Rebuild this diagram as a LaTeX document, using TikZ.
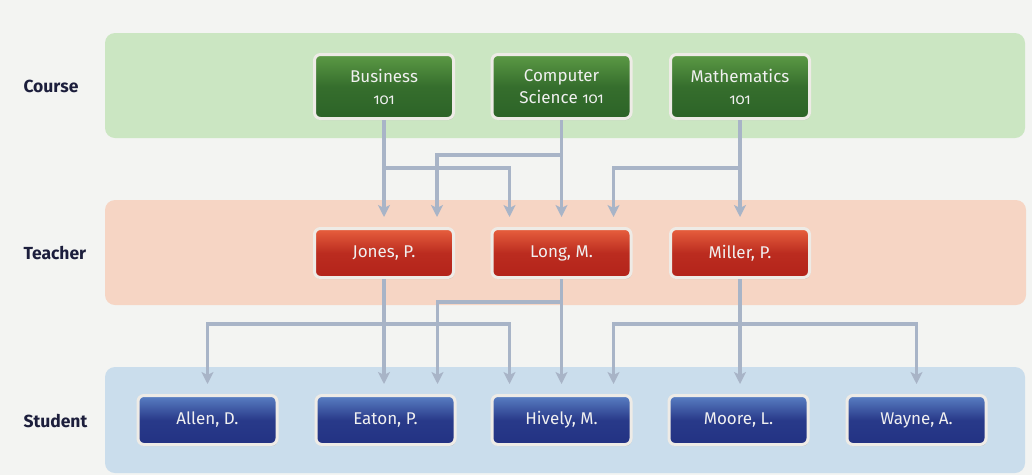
\documentclass[tikz,border=0pt]{standalone}
\usepackage{fontspec}
\setmainfont{Fira Sans}[Numbers=OldStyle]
\usetikzlibrary{arrows.meta,calc,shadows}
\definecolor{bg}{HTML}{F3F4F2}
\definecolor{gband}{HTML}{CBE6C2}
\definecolor{oband}{HTML}{F6D5C4}
\definecolor{bband}{HTML}{CADDEC}
\definecolor{gtop}{HTML}{5C9A45}
\definecolor{gbot}{HTML}{2C6327}
\definecolor{rtop}{HTML}{E8603E}
\definecolor{rbot}{HTML}{B3231A}
\definecolor{btop}{HTML}{5A80C4}
\definecolor{bbot}{HTML}{233283}
\definecolor{edge}{HTML}{EEEBE6}
\definecolor{conncol}{HTML}{A8B4C7}
\definecolor{labcol}{HTML}{1C1E3C}
\newcommand{\oldnum}[1]{{\fontsize{15}{22}\selectfont #1}}
\tikzset{
  band/.style={rounded corners=10pt},
  box/.style={draw=edge, line width=3pt, rounded corners=6pt,
    minimum width=139pt, minimum height=49pt, align=center,
    text=white!88!gray, font=\fontsize{17}{22}\selectfont,
    drop shadow={shadow xshift=0.8pt, shadow yshift=-1.5pt, opacity=0.4, fill=gray}},
  coursebox/.style={box, minimum height=64pt, top color=gtop, bottom color=gbot, middle color=gbot!80!gtop},
  teacherbox/.style={box, top color=rtop, bottom color=rbot, middle color=rbot!85!rtop},
  studentbox/.style={box, top color=btop, bottom color=bbot, middle color=bbot!90!btop},
  rowlabel/.style={anchor=west, text=labcol, font=\fontsize{17.5}{20}\selectfont\bfseries},
  conn/.style={draw=conncol, line width=3.2pt, shorten >=10pt,
    -{Stealth[length=12pt,width=12pt,inset=3pt]}},
}
\begin{document}
\begin{tikzpicture}[x=1pt,y=-1pt]
\useasboundingbox (0,0) rectangle (1032,475);
\fill[bg] (0,0) rectangle (1032,475);
% bands
\fill[band,gband] (105,33) rectangle (1025,138);
\fill[band,oband] (105,200) rectangle (1026,305);
\fill[band,bband] (105,367) rectangle (1025,473);
% row labels
\node[rowlabel] (lcourse) at (20,86) {Course};
\node[rowlabel] (lteacher) at (20,253) {Teacher};
\node[rowlabel] (lstudent) at (20,421) {Student};
% course nodes
\node[coursebox] (bus) at (384,86.5) {Business\\\oldnum{101}};
\node[coursebox] (cs) at (561.5,86.5) {Computer\\Science \oldnum{101}};
\node[coursebox] (math) at (740,86.5) {Mathematics\\\oldnum{101}};
% teacher nodes
\node[teacherbox] (jones) at (384,253) {Jones, P.};
\node[teacherbox] (long) at (561.5,253) {Long, M.};
\node[teacherbox] (miller) at (740,253) {Miller, P.};
% student nodes
\node[studentbox] (allen) at (207.5,420) {Allen, D.};
\node[studentbox] (eaton) at (385.5,420) {Eaton, P.};
\node[studentbox] (hively) at (561.5,420) {Hively, M.};
\node[studentbox] (moore) at (738.5,420) {Moore, L.};
\node[studentbox] (wayne) at (916.5,420) {Wayne, A.};
% course -> teacher
\draw[conn] (bus.south) -- (jones.north);
\draw[conn] (bus.south) |- ($(long.north)+(-52,-59)$) -- ($(long.north)+(-52,0)$);
\draw[conn] (cs.south) |- ($(jones.north)+(53,-72)$) -- ($(jones.north)+(53,0)$);
\draw[conn] (cs.south) -- (long.north);
\draw[conn] (math.south) |- ($(long.north)+(52,-59)$) -- ($(long.north)+(52,0)$);
\draw[conn] (math.south) -- (miller.north);
% teacher -> student
\draw[conn] (jones.south) |- ($(allen.north)+(0,-70)$) -- (allen.north);
\draw[conn] (jones.south) -- (jones.south |- eaton.north);
\draw[conn] (jones.south) |- ($(hively.north)+(-52,-70)$) -- ($(hively.north)+(-52,0)$);
\draw[conn] (long.south) |- ($(eaton.north)+(52,-92)$) -- ($(eaton.north)+(52,0)$);
\draw[conn] (long.south) -- (hively.north);
\draw[conn] (miller.south) |- ($(hively.north)+(52,-70)$) -- ($(hively.north)+(52,0)$);
\draw[conn] (miller.south) -- (miller.south |- moore.north);
\draw[conn] (miller.south) |- ($(wayne.north)+(0,-70)$) -- (wayne.north);
\end{tikzpicture}
\end{document}
